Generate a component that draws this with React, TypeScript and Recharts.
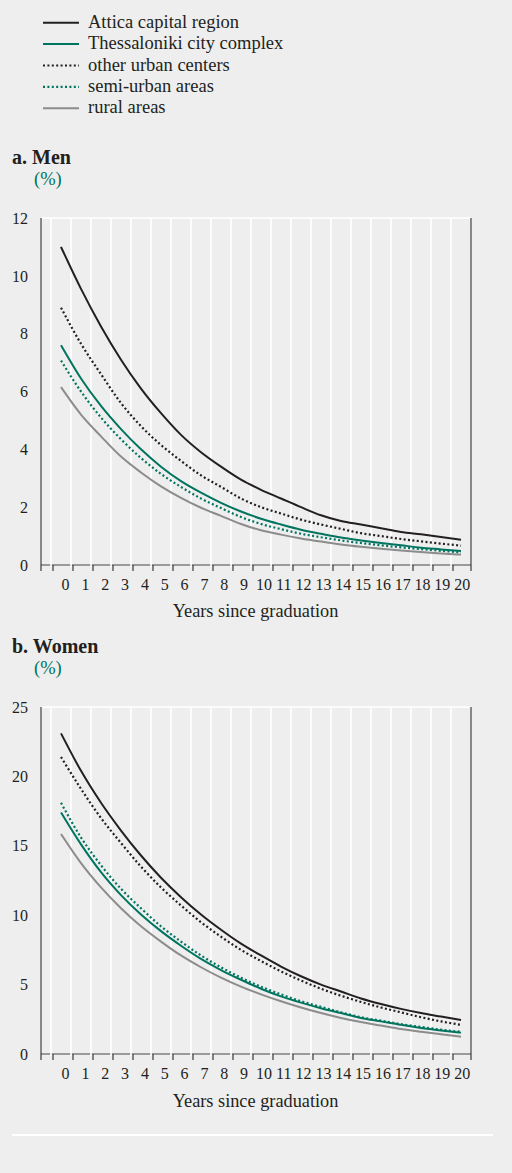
import React from 'react';
import { LineChart, Line, XAxis, YAxis, CartesianGrid } from 'recharts';

const years = [0, 1, 2, 3, 4, 5, 6, 7, 8, 9, 10, 11, 12, 13, 14, 15, 16, 17, 18, 19, 20];

// a. Men (%)
const menAttica = [11.0, 9.55, 8.25, 7.1, 6.1, 5.25, 4.5, 3.9, 3.4, 2.95, 2.6, 2.3, 2.0, 1.72, 1.52, 1.4, 1.27, 1.14, 1.06, 0.97, 0.87];
const menThess = [7.6, 6.45, 5.5, 4.7, 4.0, 3.4, 2.9, 2.5, 2.15, 1.85, 1.6, 1.4, 1.22, 1.08, 0.95, 0.85, 0.76, 0.68, 0.6, 0.54, 0.48];
const menOther = [8.9, 7.65, 6.6, 5.6, 4.8, 4.15, 3.6, 3.1, 2.7, 2.3, 2.0, 1.78, 1.57, 1.4, 1.25, 1.1, 1.0, 0.9, 0.82, 0.74, 0.67];
const menSemi = [7.07, 6.0, 5.1, 4.35, 3.7, 3.15, 2.7, 2.3, 1.97, 1.66, 1.42, 1.24, 1.08, 0.96, 0.85, 0.76, 0.68, 0.61, 0.55, 0.49, 0.44];
const menRural = [6.15, 5.2, 4.45, 3.75, 3.2, 2.72, 2.32, 1.98, 1.7, 1.42, 1.2, 1.05, 0.92, 0.81, 0.71, 0.63, 0.56, 0.5, 0.45, 0.4, 0.36];

// b. Women (%)
const womenAttica = [23.1, 20.4, 18.1, 16.1, 14.3, 12.7, 11.3, 10.05, 8.95, 7.95, 7.1, 6.3, 5.6, 5.0, 4.5, 4.0, 3.6, 3.25, 2.95, 2.7, 2.45];
const womenThess = [17.4, 15.1, 13.1, 11.45, 10.05, 8.85, 7.8, 6.85, 6.05, 5.35, 4.7, 4.15, 3.7, 3.3, 2.95, 2.6, 2.35, 2.1, 1.88, 1.7, 1.54];
const womenOther = [21.4, 19.1, 17.0, 15.2, 13.5, 12.0, 10.7, 9.5, 8.45, 7.5, 6.7, 5.95, 5.3, 4.7, 4.2, 3.75, 3.35, 3.0, 2.65, 2.35, 2.1];
const womenSemi = [18.1, 15.6, 13.6, 11.9, 10.5, 9.2, 8.1, 7.1, 6.25, 5.5, 4.85, 4.3, 3.8, 3.4, 3.0, 2.65, 2.4, 2.15, 1.95, 1.75, 1.6];
const womenRural = [15.85, 13.75, 12.0, 10.5, 9.2, 8.1, 7.1, 6.25, 5.5, 4.85, 4.3, 3.8, 3.35, 2.95, 2.6, 2.3, 2.05, 1.8, 1.6, 1.42, 1.25];

const menTicks = [0, 2, 4, 6, 8, 10, 12];
const womenTicks = [0, 5, 10, 15, 20, 25];
// boundaries between the yearly categories (plus the two plot edges)
const xTicks = [-1, -0.5, 0.5, 1.5, 2.5, 3.5, 4.5, 5.5, 6.5, 7.5, 8.5, 9.5, 10.5, 11.5, 12.5, 13.5, 14.5, 15.5, 16.5, 17.5, 18.5, 19.5, 20.5];

const BG = '#eeeeee';
const INK = '#231f20';
const TEAL = '#00745f';
const GREY = '#8c8c8c';
const AXIS = '#3a3a3a';
const FONT = 'Liberation Serif, Tinos, Times New Roman, DejaVu Serif, serif';

const series = [
  { key: 'attica', name: 'Attica capital region', color: INK, dash: undefined },
  { key: 'thess', name: 'Thessaloniki city complex', color: TEAL, dash: undefined },
  { key: 'other', name: 'other urban centers', color: INK, dash: '2 2.4' },
  { key: 'semi', name: 'semi-urban areas', color: TEAL, dash: '2 2.4' },
  { key: 'rural', name: 'rural areas', color: GREY, dash: undefined },
];

const build = (a: number[], t: number[], o: number[], s: number[], r: number[]) =>
  years.map((y, i) => ({ year: y, attica: a[i], thess: t[i], other: o[i], semi: s[i], rural: r[i] }));

const menData = build(menAttica, menThess, menOther, menSemi, menRural);
const womenData = build(womenAttica, womenThess, womenOther, womenSemi, womenRural);

const XTick = (props: any) => {
  const { x, y, payload } = props;
  const v = payload.value;
  if (v === -1 || v === 20.5) {
    return <line x1={x} x2={x} y1={y} y2={y + 6} stroke={AXIS} strokeWidth={1.2} />;
  }
  const label = v + 0.5;
  return (
    <g>
      <line x1={x} x2={x} y1={y - 2} y2={y + 2} stroke="#ffffff" strokeWidth={1.6} />
      <line x1={x + 2} x2={x + 2} y1={y} y2={y + 6} stroke={AXIS} strokeWidth={1.2} />
      <text x={x + 10 + 4.6 - 0.17 * label} y={y + 25} textAnchor="middle" fontSize={16} style={{ fontFamily: FONT }} fill={INK}>
        {label}
      </text>
    </g>
  );
};

const Panel = ({ data, max, ticks }: { data: any[]; max: number; ticks: number[] }) => (
  <LineChart width={512} height={395} data={data} margin={{ top: 8, right: 0, bottom: 0, left: 0 }}>
    <CartesianGrid stroke="#ffffff" strokeWidth={1.6} />
    <XAxis
      dataKey="year"
      type="number"
      domain={[-1, 20.5]}
      ticks={xTicks}
      interval={0}
      height={40}
      tickLine={false}
      tickSize={0}
      tickMargin={0}
      axisLine={{ stroke: AXIS, strokeWidth: 1.2 }}
      tick={<XTick />}
    />
    <YAxis
      yAxisId="l"
      orientation="left"
      width={41}
      domain={[0, max]}
      ticks={ticks}
      interval={0}
      tickLine={false}
      tickSize={0}
      tickMargin={13}
      axisLine={{ stroke: AXIS, strokeWidth: 1.2 }}
      tick={{ fontSize: 16, style: { fontFamily: FONT }, fill: INK }}
    />
    <YAxis
      yAxisId="r"
      orientation="right"
      width={41}
      domain={[0, max]}
      ticks={ticks}
      interval={0}
      tickLine={false}
      tickSize={0}
      tickMargin={10}
      axisLine={{ stroke: AXIS, strokeWidth: 1.2 }}
      tick={{ fontSize: 16, style: { fontFamily: FONT }, fill: INK }}
    />
    {[...series].reverse().map((s) => (
      <Line
        key={s.key}
        yAxisId="l"
        type="monotone"
        dataKey={s.key}
        stroke={s.color}
        strokeWidth={s.dash ? 2.2 : 2}
        strokeDasharray={s.dash}
        dot={false}
        activeDot={false}
        isAnimationActive={false}
      />
    ))}
  </LineChart>
);

export default function App() {
  return (
    <div style={{ position: 'absolute', left: 0, top: 0, width: 512, height: 1173, background: BG, fontFamily: FONT }}>
      <svg width={512} height={1173} style={{ position: 'absolute', left: 0, top: 0, fontFamily: FONT }}>
        {series.map((s, i) => (
          <g key={s.key}>
            <line x1={43} x2={79} y1={22.7 + i * 21.4} y2={22.7 + i * 21.4} stroke={s.color} strokeWidth={s.dash ? 2.2 : 2} strokeDasharray={s.dash} />
            <text x={88} y={27.8 + i * 21.4} fontSize={18.5} fill={INK}>{s.name}</text>
          </g>
        ))}
        <text x={12} y={164} fontSize={20} fontWeight="bold" fill={INK}>a. Men</text>
        <text x={34} y={184.5} fontSize={18.5} fill={TEAL}>(%)</text>
        <text x={255.5} y={617} fontSize={18.3} textAnchor="middle" fill={INK}>Years since graduation</text>
        <text x={12} y={653} fontSize={20} fontWeight="bold" fill={INK}>b. Women</text>
        <text x={34} y={673.5} fontSize={18.5} fill={TEAL}>(%)</text>
        <text x={255.5} y={1107} fontSize={18.3} textAnchor="middle" fill={INK}>Years since graduation</text>
        <line x1={12} x2={493} y1={1135} y2={1135} stroke="#ffffff" strokeWidth={2} />
      </svg>
      <div style={{ position: 'absolute', left: 0, top: 210 }}>
        <Panel data={menData} max={12} ticks={menTicks} />
      </div>
      <div style={{ position: 'absolute', left: 0, top: 699 }}>
        <Panel data={womenData} max={25} ticks={womenTicks} />
      </div>
    </div>
  );
}
